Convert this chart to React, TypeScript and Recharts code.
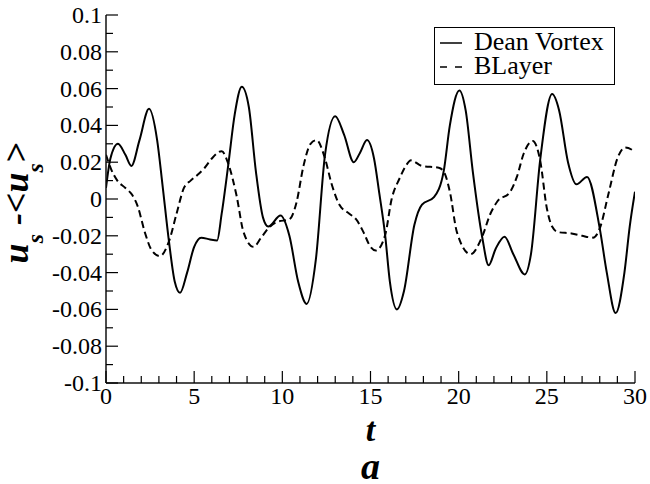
import { LineChart, Line, XAxis, YAxis, Legend } from "recharts";

const DEAN_T = [0, 0.25, 0.68, 1.1, 1.44, 1.9, 2.44, 2.9, 3.2, 3.57, 3.9, 4.2, 4.6, 5.0, 5.4, 5.9, 6.3, 6.56, 6.94, 7.3, 7.7, 8.1, 8.5, 8.9, 9.2, 9.9, 10.4, 10.9, 11.38, 11.9, 12.42, 13.0, 13.5, 14.05, 14.4, 14.8, 15.2, 15.5, 15.83, 16.1, 16.5, 16.9, 17.49, 17.92, 18.6, 19.15, 19.5, 20.04, 20.4, 20.8, 21.33, 21.7, 22.1, 22.6, 23.1, 23.75, 24.1, 24.62, 25.3, 25.7, 26.2, 26.68, 27.28, 28.0, 28.4, 28.9, 29.4, 29.7, 30];
const DEAN_V = [0.006, 0.022, 0.03, 0.024, 0.018, 0.032, 0.049, 0.032, 0.008, -0.023, -0.045, -0.051, -0.04, -0.026, -0.021, -0.022, -0.0225, -0.008, 0.019, 0.046, 0.061, 0.05, 0.015, -0.01, -0.015, -0.009, -0.02, -0.045, -0.057, -0.033, 0.024, 0.045, 0.035, 0.02, 0.025, 0.032, 0.022, 0.003, -0.0196, -0.045, -0.06, -0.05, -0.014, -0.003, 0.001, 0.015, 0.04, 0.059, 0.048, 0.015, -0.0205, -0.036, -0.027, -0.0205, -0.03, -0.041, -0.03, 0.021, 0.057, 0.048, 0.02, 0.008, 0.012, -0.016, -0.04, -0.062, -0.04, -0.015, 0.004];

const BLAYER_T = [0, 0.3, 0.64, 1.1, 1.5, 1.8, 2.2, 2.6, 3.06, 3.57, 4.0, 4.42, 4.8, 5.18, 5.6, 6.0, 6.56, 6.94, 7.4, 7.8, 8.36, 8.8, 9.2, 9.68, 10.4, 10.8, 11.2, 11.6, 11.95, 12.42, 12.8, 13.23, 13.8, 14.18, 14.6, 15.0, 15.3, 15.83, 16.2, 16.64, 17.0, 17.3, 17.9, 18.87, 19.15, 19.5, 19.9, 20.67, 21.33, 21.8, 22.18, 22.93, 23.3, 23.7, 24.2, 24.62, 25.0, 25.3, 25.64, 26.4, 27.0, 27.62, 28.0, 28.5, 29.0, 29.45, 30];
const BLAYER_V = [0.024, 0.016, 0.01, 0.006, 0.002, -0.004, -0.018, -0.028, -0.031, -0.023, -0.008, 0.006, 0.01, 0.013, 0.017, 0.022, 0.026, 0.019, 0.002, -0.018, -0.026, -0.021, -0.016, -0.0125, -0.011, -0.002, 0.018, 0.03, 0.032, 0.022, 0.008, -0.003, -0.008, -0.011, -0.018, -0.026, -0.028, -0.0196, 0.0, 0.011, 0.018, 0.021, 0.018, 0.017, 0.015, 0.004, -0.018, -0.03, -0.0205, -0.008, -0.0015, 0.004, 0.012, 0.025, 0.0315, 0.021, -0.005, -0.015, -0.018, -0.0187, -0.02, -0.021, -0.016, 0.003, 0.022, 0.028, 0.0257];

const X_TICKS = [0, 1, 2, 3, 4, 5, 6, 7, 8, 9, 10, 11, 12, 13, 14, 15, 16, 17, 18, 19, 20, 21, 22, 23, 24, 25, 26, 27, 28, 29, 30];
const Y_TICKS = [-0.1, -0.09, -0.08, -0.07, -0.06, -0.05, -0.04, -0.03, -0.02, -0.01, 0, 0.01, 0.02, 0.03, 0.04, 0.05, 0.06, 0.07, 0.08, 0.09, 0.1];
const SERIES_NAMES = ["Dean Vortex", "BLayer"];

const deanData = DEAN_T.map((t, i) => ({ t, v: DEAN_V[i] }));
const blayerData = BLAYER_T.map((t, i) => ({ t, v: BLAYER_V[i] }));

const FONT = "Liberation Serif, serif";
const INK = "#000";

const isMajorX = (v: number) => v % 5 === 0;
const isMajorY = (v: number) => Math.round(v * 100) % 2 === 0;
const fmtY = (v: number) => {
    const c = Math.round(v * 100);
    return c === 0 ? "0" : String(c / 100);
};

// ticks point into the plot, like the original
const BottomTick = ({ x, y, payload }: any) => {
    const major = isMajorX(payload.value);
    return (
        <g>
            <line x1={x} y1={y} x2={x} y2={y - (major ? 12 : 7)} stroke={INK} strokeWidth={1.2} />
            {major && (
                <text x={x} y={y + 21} textAnchor="middle" fontFamily={FONT} fontSize={24} fill={INK}>
                    {payload.value}
                </text>
            )}
        </g>
    );
};

const TopTick = ({ x, y, payload }: any) => {
    const major = isMajorX(payload.value);
    return <line x1={x} y1={y} x2={x} y2={y + (major ? 12 : 7)} stroke={INK} strokeWidth={1.2} />;
};

const LeftTick = ({ x, y, payload }: any) => {
    const major = isMajorY(payload.value);
    return (
        <g>
            <line x1={x} y1={y} x2={x + (major ? 12 : 7)} y2={y} stroke={INK} strokeWidth={1.2} />
            {major && (
                <text x={x - 4} y={y + 8} textAnchor="end" fontFamily={FONT} fontSize={24} fill={INK}>
                    {fmtY(payload.value)}
                </text>
            )}
        </g>
    );
};

const RightTick = ({ x, y, payload }: any) => {
    const major = isMajorY(payload.value);
    return <line x1={x} y1={y} x2={x - (major ? 12 : 7)} y2={y} stroke={INK} strokeWidth={1.2} />;
};

const YTitle = ({ viewBox }: any) => {
    const vb = viewBox || { x: 0, y: 15, width: 106, height: 368 };
    const cx = vb.x + 28;
    const cy = vb.y + vb.height / 2 + 4;
    return (
        <text
            transform={`translate(${cx},${cy}) rotate(-90)`}
            textAnchor="middle"
            fontFamily={FONT}
            fontWeight="bold"
            fontStyle="italic"
            fontSize={36}
            fill={INK}
        >
            u<tspan fontSize={24} dy={15}>s</tspan>
            <tspan dy={-15}>{" -<u"}</tspan>
            <tspan fontSize={24} dy={15}>s</tspan>
            <tspan dy={-15}>{">"}</tspan>
        </text>
    );
};

const XTitle = ({ viewBox }: any) => {
    const vb = viewBox || { x: 106, y: 383, width: 529, height: 101 };
    const cx = vb.x + vb.width / 2;
    return (
        <g fontFamily={FONT} fontWeight="bold" fontStyle="italic" fill={INK} textAnchor="middle">
            <text x={cx} y={vb.y + 58} fontSize={34}>t</text>
            <text x={cx} y={vb.y + 96} fontSize={38}>a</text>
        </g>
    );
};

const LegendBox = () => (
    <div
        style={{
            border: "1px solid #000",
            background: "#fff",
            width: 181,
            height: 58,
            boxSizing: "border-box",
            padding: "2px 0 0 5px",
            fontFamily: FONT,
            fontSize: 26,
            color: INK,
        }}
    >
        {SERIES_NAMES.map((name, i) => (
            <div key={name} style={{ display: "flex", alignItems: "flex-start", height: 24, lineHeight: "24px", whiteSpace: "nowrap" }}>
                <svg width={22} height={24} style={{ marginRight: 12, flex: "none" }}>
                    <line x1={0} x2={22} y1={13} y2={13} stroke={INK} strokeWidth={1.5} strokeDasharray={i === 1 ? "7 8" : undefined} />
                </svg>
                <span>{name}</span>
            </div>
        ))}
    </div>
);

export default function App() {
    const axisLine = { stroke: "#111", strokeWidth: 1.5 };
    return (
        <div style={{ position: "absolute", left: 0, top: 0, width: 650, height: 484, background: "#fff" }}>
            <LineChart width={650} height={484} margin={{ top: 15, right: 15, bottom: 0, left: 0 }}>
                <XAxis
                    xAxisId="b"
                    type="number"
                    dataKey="t"
                    domain={[0, 30]}
                    ticks={X_TICKS}
                    interval={0}
                    height={101}
                    tickSize={0}
                    tickMargin={0}
                    tickLine={false}
                    axisLine={axisLine}
                    tick={<BottomTick />}
                    label={<XTitle />}
                    allowDataOverflow
                />
                <XAxis
                    xAxisId="t"
                    orientation="top"
                    type="number"
                    dataKey="t"
                    domain={[0, 30]}
                    ticks={X_TICKS}
                    interval={0}
                    height={0}
                    tickSize={0}
                    tickMargin={0}
                    tickLine={false}
                    axisLine={axisLine}
                    tick={<TopTick />}
                    allowDataOverflow
                />
                <YAxis
                    yAxisId="l"
                    type="number"
                    domain={[-0.1, 0.1]}
                    ticks={Y_TICKS}
                    interval={0}
                    width={106}
                    tickSize={0}
                    tickMargin={0}
                    tickLine={false}
                    axisLine={axisLine}
                    tick={<LeftTick />}
                    label={<YTitle />}
                    allowDataOverflow
                />
                <YAxis
                    yAxisId="r"
                    orientation="right"
                    type="number"
                    domain={[-0.1, 0.1]}
                    ticks={Y_TICKS}
                    interval={0}
                    width={0}
                    tickSize={0}
                    tickMargin={0}
                    tickLine={false}
                    axisLine={axisLine}
                    tick={<RightTick />}
                    allowDataOverflow
                />
                <Legend
                    layout="vertical"
                    align="center"
                    verticalAlign="middle"
                    content={<LegendBox />}
                    wrapperStyle={{ left: 434, top: 27, width: 181, height: 58 }}
                />
                <Line
                    xAxisId="b"
                    yAxisId="l"
                    data={deanData}
                    dataKey="v"
                    name={SERIES_NAMES[0]}
                    type="monotone"
                    stroke={INK}
                    strokeWidth={2}
                    dot={false}
                    isAnimationActive={false}
                />
                <Line
                    xAxisId="b"
                    yAxisId="l"
                    data={blayerData}
                    dataKey="v"
                    name={SERIES_NAMES[1]}
                    type="monotone"
                    stroke={INK}
                    strokeWidth={2}
                    strokeDasharray="7 4"
                    dot={false}
                    isAnimationActive={false}
                />
            </LineChart>
        </div>
    );
}
